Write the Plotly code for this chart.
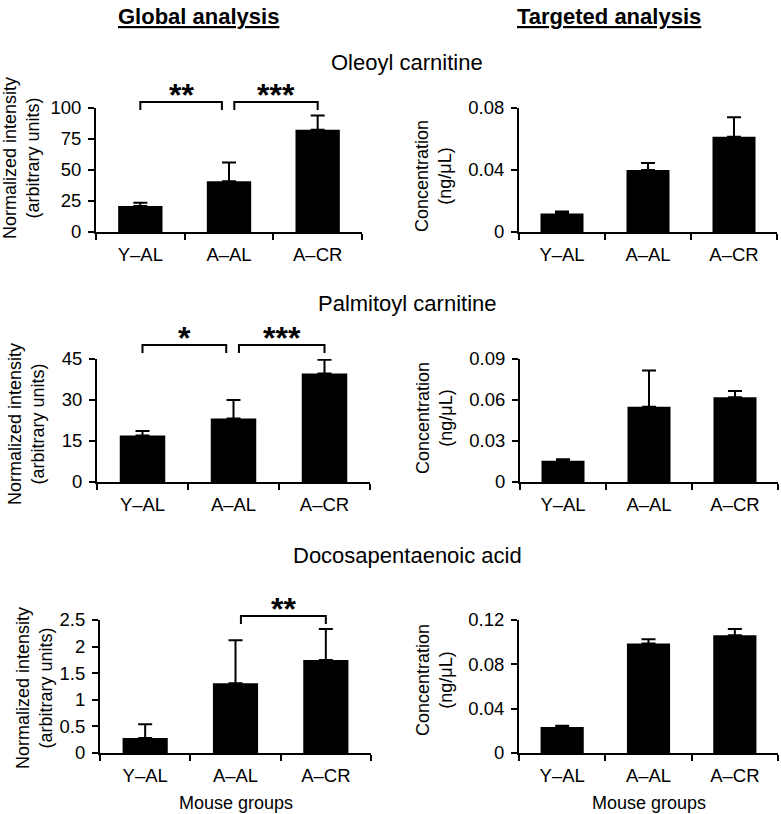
import plotly.graph_objects as go

# ---------------- data ----------------
groups = ["Y–AL", "A–AL", "A–CR"]

global_oleoyl = [21.0, 41.0, 82.5]
global_oleoyl_err = [2.5, 15.0, 11.5]
targeted_oleoyl = [0.012, 0.040, 0.0615]
targeted_oleoyl_err = [0.0013, 0.0045, 0.0125]

global_palmitoyl = [17.0, 23.2, 39.7]
global_palmitoyl_err = [1.7, 6.8, 5.0]
targeted_palmitoyl = [0.0155, 0.055, 0.062]
targeted_palmitoyl_err = [0.0012, 0.0265, 0.0045]

global_dpa = [0.28, 1.31, 1.75]
global_dpa_err = [0.26, 0.81, 0.58]
targeted_dpa = [0.0234, 0.0988, 0.1062]
targeted_dpa_err = [0.0012, 0.0038, 0.0057]

y_ranges = [[0, 100], [0, 0.08], [0, 45], [0, 0.09], [0, 2.5], [0, 0.12]]
y_dticks = [25, 0.04, 15, 0.03, 0.5, 0.04]

compound_titles = ["Oleoyl carnitine", "Palmitoyl carnitine", "Docosapentaenoic acid"]
column_titles = ["Global analysis", "Targeted analysis"]
global_ytitle = "Normalized intensity<br>(arbitrary units)"
targeted_ytitle = "Concentration<br>(ng/μL)"
xtitle = "Mouse groups"

# significance brackets: (from group index, to group index, label)
sig_oleoyl = [(0, 1, "**"), (1, 2, "***")]
sig_palmitoyl = [(0, 1, "*"), (1, 2, "***")]
sig_dpa = [(1, 2, "**")]

# ---------------- layout geometry (pixels on screen) ----------------
W, H = 781, 814


def px(p):
    return p / W


def py(p):
    return 1 - p / H


# x0, x1, ytop, ybottom of each plot area
boxes = [
    (96, 362, 108, 232),
    (519, 777, 108, 232),
    (97, 370, 359, 482),
    (520, 778, 359, 482),
    (100, 371, 620, 753),
    (519, 778, 620, 753),
]
bracket_px = [6, None, 14, None, 4, None]  # bracket height above axis top

panels = [
    (global_oleoyl, global_oleoyl_err, sig_oleoyl),
    (targeted_oleoyl, targeted_oleoyl_err, None),
    (global_palmitoyl, global_palmitoyl_err, sig_palmitoyl),
    (targeted_palmitoyl, targeted_palmitoyl_err, None),
    (global_dpa, global_dpa_err, sig_dpa),
    (targeted_dpa, targeted_dpa_err, None),
]

FONT = "Liberation Sans, Arial, Helvetica, sans-serif"
fig = go.Figure()
layout = dict(
    width=W, height=H,
    margin=dict(l=0, r=0, t=0, b=0, autoexpand=False),
    paper_bgcolor="white", plot_bgcolor="white",
    showlegend=False,
    font=dict(family=FONT, size=18, color="black"),
)
shapes = []
annotations = []

for k, (vals, errs, sig) in enumerate(panels):
    n = k + 1
    xa = "x" if n == 1 else f"x{n}"
    ya = "y" if n == 1 else f"y{n}"
    x0, x1, yt, yb = boxes[k]
    fig.add_trace(go.Bar(
        x=groups, y=vals, xaxis=xa, yaxis=ya,
        marker=dict(color="black", line=dict(width=0)),
        width=0.5,
        error_y=dict(type="data", array=errs, arrayminus=[0] * len(errs),
                     symmetric=False, color="black", thickness=2, width=7),
    ))
    layout["xaxis" if n == 1 else f"xaxis{n}"] = dict(
        domain=[px(x0), px(x1)], anchor=ya,
        type="category", range=[-0.5, 2.5], tickson="boundaries",
        showline=True, linecolor="black", linewidth=2,
        ticks="outside", ticklen=6, tickwidth=2, tickcolor="black",
        showgrid=False, zeroline=False, fixedrange=True,
        tickfont=dict(size=18.5), ticklabelstandoff=5,
    )
    layout["yaxis" if n == 1 else f"yaxis{n}"] = dict(
        domain=[py(yb), py(yt)], anchor=xa,
        range=y_ranges[k], dtick=y_dticks[k], tick0=0,
        showline=True, linecolor="black", linewidth=2,
        ticks="outside", ticklen=6, tickwidth=2, tickcolor="black",
        showgrid=False, zeroline=False, fixedrange=True,
        tickfont=dict(size=18.5), ticklabelstandoff=3,
    )
    # y-axis titles
    cx = [21, 433, 26, 434, 34, 434][k]
    cy = [158, 176, 424, 418, 688, 680][k]
    annotations.append(dict(
        text=global_ytitle if k % 2 == 0 else targeted_ytitle,
        xref="paper", yref="paper", x=px(cx), y=py(cy),
        xanchor="center", yanchor="middle", textangle=-90,
        showarrow=False, font=dict(size=18),
    ))
    # significance brackets
    if sig:
        ph = yb - yt
        top = 1 + bracket_px[k] / ph
        leg = top - 8 / ph
        for (i, j, lab) in sig:
            xs = i + (0.06 if i == 1 else 0.0)
            xe = j - (0.08 if j == 1 else 0.0)
            shapes.append(dict(
                type="path", xref=xa, yref=f"{ya} domain",
                path=f"M {xs},{leg} L {xs},{top} L {xe},{top} L {xe},{leg}",
                line=dict(color="black", width=2),
            ))
            annotations.append(dict(
                text=f"<b>{lab}</b>", xref=xa, yref=f"{ya} domain",
                x=(xs + xe) / 2, y=top, xanchor="center", yanchor="bottom",
                yshift=-13, showarrow=False, font=dict(size=32),
            ))

# column titles
for cx, t in zip([198, 609], column_titles):
    annotations.append(dict(
        text=f"<b><u>{t}</u></b>", xref="paper", yref="paper",
        x=px(cx), y=py(16), xanchor="center", yanchor="middle",
        showarrow=False, font=dict(size=22),
    ))
# compound titles
for cy, t in zip([62, 303, 555], compound_titles):
    annotations.append(dict(
        text=t, xref="paper", yref="paper",
        x=px(407), y=py(cy), xanchor="center", yanchor="middle",
        showarrow=False, font=dict(size=22),
    ))
# x-axis titles
for cx in [236, 649]:
    annotations.append(dict(
        text=xtitle, xref="paper", yref="paper",
        x=px(cx), y=py(803), xanchor="center", yanchor="middle",
        showarrow=False, font=dict(size=18),
    ))

layout["shapes"] = shapes
layout["annotations"] = annotations
fig.update_layout(**layout)
fig.write_html(
    "out.html",
    config={"displayModeBar": False, "staticPlot": True},
    post_script="document.body.style.margin='0';document.body.style.overflow='hidden';",
)
